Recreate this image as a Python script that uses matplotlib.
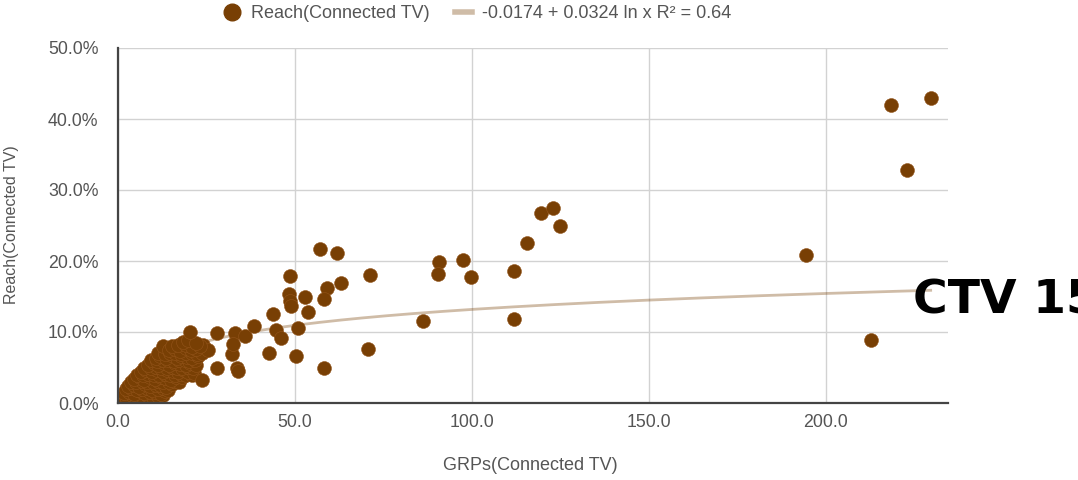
import matplotlib
matplotlib.use("Agg")
import matplotlib.pyplot as plt
from matplotlib.lines import Line2D
from matplotlib.ticker import FuncFormatter
import numpy as np

plt.rcParams['font.family'] = ['Liberation Sans', 'DejaVu Sans']

# GRPs (x) and reach in % (y)
# dense cluster near the origin
grps_low = [0.5, 1.4, 2.6, 3.5, 4.4, 5.6, 6.5, 7.4, 8.6, 9.5, 10.6, 11.7,
            1.0, 2.2, 3.9, 5.2, 6.9, 8.1, 9.8, 11.2, 12.6,
            1.6, 3.1, 4.4, 6.1, 7.4, 9.1, 10.4, 12.1, 13.4,
            2.3, 3.8, 5.3, 6.8, 8.2, 9.7, 11.3, 12.7, 14.2,
            2.9, 4.6, 5.9, 7.6, 8.9, 10.6, 11.9, 13.6, 15.2,
            3.6, 5.2, 6.7, 8.3, 9.8, 11.2, 12.8, 14.3, 15.8, 17.1,
            4.4, 6.1, 7.4, 9.1, 10.4, 12.1, 13.4, 15.1, 16.4, 18.2,
            5.4, 7.1, 8.6, 10.2, 11.7, 13.3, 14.8, 16.2, 17.8, 19.3, 20.8,
            6.6, 7.9, 9.6, 10.9, 12.6, 13.9, 15.6, 16.9, 18.6, 19.9, 21.4,
            7.3, 9.2, 10.8, 12.2, 13.8, 15.3, 16.8, 18.2, 19.8, 21.3,
            8.4, 10.1, 11.4, 13.1, 14.4, 16.1, 17.4, 19.1, 20.4, 22.1,
            9.4, 11.1, 12.8, 14.2, 15.8, 17.2, 18.8, 20.2, 21.8,
            10.6, 11.9, 13.6, 14.9, 16.6, 17.9, 19.6, 20.9, 22.6,
            11.2, 13.3, 14.8, 16.2, 17.8, 19.3, 20.8, 22.4, 23.8,
            12.8, 14.4, 16.1, 17.4, 19.1, 20.6, 21.9, 24.0, 25.3,
            15.2, 17.0, 19.2, 21.0, 23.2,
            18.4, 19.8, 22.1, 20.3, 23.6]
reach_low = [0.2, 0.4, 0.3, 0.6, 0.3, 0.7, 0.4, 0.6, 0.3, 0.5, 0.4, 0.6,
             1.0, 0.9, 1.1, 0.9, 1.0, 1.1, 0.9, 1.0, 1.1,
             1.4, 1.6, 1.3, 1.7, 1.4, 1.6, 1.5, 1.3, 1.7,
             2.0, 2.1, 1.9, 2.0, 2.1, 1.9, 2.0, 2.1, 1.9,
             2.4, 2.6, 2.3, 2.7, 2.4, 2.6, 2.5, 2.3, 2.7,
             3.0, 2.9, 3.1, 3.0, 2.9, 3.1, 3.0, 2.9, 3.1, 3.0,
             3.4, 3.6, 3.3, 3.7, 3.4, 3.6, 3.5, 3.3, 3.6, 3.7,
             4.0, 3.9, 4.1, 4.0, 3.9, 4.1, 4.0, 3.9, 4.1, 4.0, 3.9,
             4.4, 4.6, 4.3, 4.7, 4.4, 4.6, 4.5, 4.3, 4.6, 4.4, 4.2,
             5.0, 4.9, 5.1, 5.0, 4.9, 5.1, 5.0, 4.9, 5.1, 5.0,
             5.4, 5.6, 5.3, 5.7, 5.4, 5.6, 5.5, 5.3, 5.6, 5.4,
             6.0, 5.9, 6.1, 6.0, 5.9, 6.1, 6.0, 5.9, 6.1,
             6.4, 6.6, 6.3, 6.7, 6.4, 6.6, 6.5, 6.3, 6.6,
             7.0, 6.9, 7.1, 7.0, 6.9, 7.1, 7.0, 6.9, 7.1,
             8.0, 7.4, 7.6, 7.3, 7.7, 7.4, 7.6, 8.1, 7.5,
             8.0, 8.2, 8.1, 7.9, 8.0,
             8.6, 8.9, 8.4, 10.0, 3.3]

# the spread-out points
grps_mid = [27.9, 33.1, 35.9, 38.5, 27.9, 33.5, 33.8, 32.2, 32.6,
            43.9, 44.5, 46.0, 42.6, 50.8, 50.2, 48.6, 48.3, 48.6, 48.8,
            52.9, 53.6, 57.0, 62.0, 71.3, 63.0, 59.0, 58.2, 58.3, 70.6,
            86.3, 90.6, 90.3, 97.6, 99.8, 111.8, 111.8, 115.6, 119.6, 123.0, 125.0,
            194.5, 212.7, 218.5, 222.9, 229.6]
reach_mid = [9.9, 9.9, 9.4, 10.8, 4.9, 5.0, 4.5, 6.9, 8.3,
             12.5, 10.3, 9.2, 7.0, 10.5, 6.6, 17.9, 15.3, 14.4, 13.7,
             14.9, 12.8, 21.7, 21.1, 18.0, 16.9, 16.2, 14.7, 4.9, 7.6,
             11.6, 19.8, 18.2, 20.1, 17.8, 18.6, 11.9, 22.5, 26.8, 27.5, 24.9,
             20.8, 8.9, 42.0, 32.8, 43.0]

grps = grps_low + grps_mid
reach = [r / 100 for r in reach_low + reach_mid]

# trendline from the legend text
a, b = -0.0174, 0.0324

fig = plt.figure(figsize=(10.78, 4.8), dpi=100)
ax = fig.add_axes([118 / 1078, 77 / 480, 830 / 1078, 355 / 480])

xs = np.linspace(1, max(grps), 300)
ax.plot(xs, a + b * np.log(xs), color='#783f04', alpha=0.35, lw=2, zorder=2)
ax.scatter(grps, reach, s=100, color='#783f04', edgecolors='#93541a',
           linewidths=0.4, zorder=3)

ax.set_xlim(0, 234.5)
ax.set_ylim(0, 0.5)
ax.set_xticks([0, 50, 100, 150, 200])
ax.set_yticks([0, 0.1, 0.2, 0.3, 0.4, 0.5])
ax.xaxis.set_major_formatter(FuncFormatter(lambda v, p: f"{v:.1f}"))
ax.yaxis.set_major_formatter(FuncFormatter(lambda v, p: f"{v * 100:.1f}%"))
ax.tick_params(length=0, labelsize=12.8, labelcolor='#555555')
ax.tick_params(axis='y', pad=14)
ax.tick_params(axis='x', pad=8)
ax.grid(True, color='#d2d2d2', lw=1)
ax.set_axisbelow(True)
for s in ['top', 'right']:
    ax.spines[s].set_visible(False)
for s in ['left', 'bottom']:
    ax.spines[s].set_color('#444444')
    ax.spines[s].set_linewidth(1.6)
    ax.spines[s].set_zorder(4)

fig.text(530 / 1078, 1 - 465 / 480, 'GRPs(Connected TV)', ha='center',
         va='center', fontsize=13, color='#555555')
fig.text(12 / 1078, 1 - 225 / 480, 'Reach(Connected TV)', ha='center',
         va='center', rotation=90, fontsize=11.5, color='#555555')

handles = [Line2D([], [], marker='o', ls='', color='#783f04', markersize=12),
           Line2D([], [], color='#783f04', alpha=0.35, lw=4)]
fig.legend(handles, ['Reach(Connected TV)', '-0.0174 + 0.0324 ln x R² = 0.64'],
           loc='center', bbox_to_anchor=(478 / 1078, 1 - 14 / 480), ncol=2,
           frameon=False, fontsize=13, labelcolor='#555555',
           handlelength=0.9, handletextpad=0.6, columnspacing=1.4)

fig.text(913 / 1078, 1 - 313 / 480, 'CTV 15', ha='left', va='baseline',
         fontsize=34, fontweight='bold', family=['DejaVu Sans'],
         color='black')

fig.savefig('out.png', dpi=100)
